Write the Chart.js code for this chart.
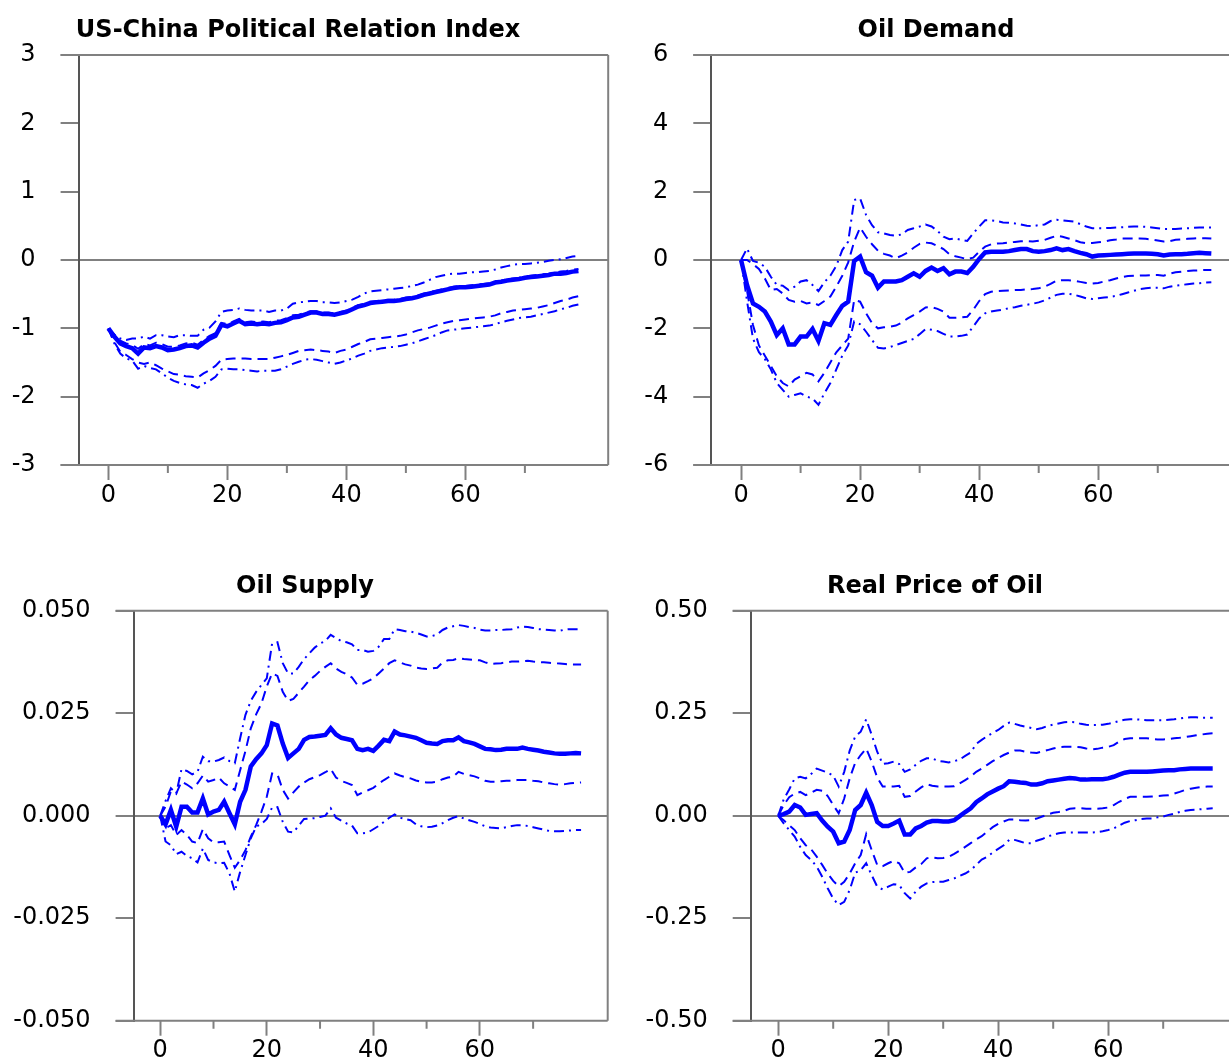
<!DOCTYPE html>
<html>
<head>
<meta charset="utf-8">
<script src="https://cdn.jsdelivr.net/npm/chart.js@4.4.1/dist/chart.umd.min.js"></script>
<style>
html,body{margin:0;padding:0;background:#fff;overflow:hidden;width:1229px;height:1062px;}
.pane{position:absolute;}
canvas{display:block;}
</style>
</head>
<body>
<div class="pane" style="left:0;top:0;"><canvas id="c1" width="615" height="531"></canvas></div>
<div class="pane" style="left:615px;top:0;"><canvas id="c2" width="640" height="531"></canvas></div>
<div class="pane" style="left:0;top:531px;"><canvas id="c3" width="615" height="531"></canvas></div>
<div class="pane" style="left:615px;top:531px;"><canvas id="c4" width="640" height="531"></canvas></div>
<script>
// ---------------- DATA ----------------
const horizons = [0,1,2,3,4,5,6,7,8,9,10,11,12,13,14,15,16,17,18,19,20,21,22,23,24,25,26,27,28,29,30,31,32,33,34,35,36,37,38,39,40,41,42,43,44,45,46,47,48,49,50,51,52,53,54,55,56,57,58,59,60,61,62,63,64,65,66,67,68,69,70,71,72,73,74,75,76,77,78,79];

const titles = ["US-China Political Relation Index", "Oil Demand", "Oil Supply", "Real Price of Oil"];

const xTickValues = [0,10,20,30,40,50,60,70];
const xTickLabels = ["0","","20","","40","","60",""];

const p1YTickValues = [-3,-2,-1,0,1,2,3];
const p1YTickLabels = ["-3","-2","-1","0","1","2","3"];
const p2YTickValues = [-6,-4,-2,0,2,4,6];
const p2YTickLabels = ["-6","-4","-2","0","2","4","6"];
const p3YTickValues = [-0.05,-0.025,0,0.025,0.05];
const p3YTickLabels = ["-0.050","-0.025","0.000","0.025","0.050"];
const p4YTickValues = [-0.5,-0.25,0,0.25,0.5];
const p4YTickLabels = ["-0.50","-0.25","0.00","0.25","0.50"];

// Panel 1: US-China Political Relation Index
const p1Median = [-1.00,-1.12,-1.22,-1.26,-1.29,-1.37,-1.28,-1.29,-1.26,-1.28,
  -1.32,-1.31,-1.29,-1.26,-1.25,-1.28,-1.21,-1.15,-1.11,-0.95,
  -0.97,-0.93,-0.89,-0.94,-0.93,-0.94,-0.93,-0.94,-0.92,-0.91,
  -0.88,-0.84,-0.83,-0.80,-0.77,-0.77,-0.79,-0.79,-0.80,-0.78,
  -0.76,-0.72,-0.68,-0.66,-0.63,-0.62,-0.61,-0.60,-0.60,-0.59,
  -0.57,-0.56,-0.54,-0.51,-0.49,-0.47,-0.45,-0.43,-0.41,-0.40,
  -0.40,-0.39,-0.38,-0.37,-0.36,-0.33,-0.32,-0.30,-0.29,-0.28,
  -0.26,-0.25,-0.24,-0.23,-0.22,-0.20,-0.20,-0.19,-0.17,-0.16];
const p1InnerUp = [-1.00,-1.09,-1.18,-1.22,-1.24,-1.30,-1.23,-1.25,-1.21,-1.23,
  -1.27,-1.27,-1.25,-1.22,-1.21,-1.24,-1.17,-1.11,-1.07,-0.92,
  -0.94,-0.90,-0.86,-0.91,-0.90,-0.91,-0.90,-0.91,-0.89,-0.88,
  -0.85,-0.81,-0.80,-0.77,-0.75,-0.75,-0.77,-0.77,-0.78,-0.76,
  -0.74,-0.70,-0.66,-0.64,-0.61,-0.60,-0.59,-0.58,-0.58,-0.57,
  -0.55,-0.54,-0.52,-0.49,-0.47,-0.45,-0.43,-0.41,-0.39,-0.38,
  -0.38,-0.37,-0.36,-0.35,-0.34,-0.31,-0.30,-0.28,-0.27,-0.26,
  -0.24,-0.23,-0.22,-0.21,-0.20,-0.18,-0.17,-0.16,-0.14,-0.13];
const p1InnerLo = [-1.00,-1.20,-1.34,-1.39,-1.45,-1.50,-1.52,-1.50,-1.54,-1.59,
  -1.63,-1.67,-1.68,-1.70,-1.71,-1.72,-1.66,-1.61,-1.55,-1.46,
  -1.45,-1.44,-1.44,-1.44,-1.45,-1.45,-1.45,-1.45,-1.43,-1.41,
  -1.39,-1.36,-1.33,-1.32,-1.31,-1.32,-1.33,-1.34,-1.36,-1.33,
  -1.31,-1.27,-1.23,-1.20,-1.16,-1.15,-1.14,-1.13,-1.12,-1.11,
  -1.09,-1.06,-1.03,-1.01,-0.99,-0.96,-0.93,-0.91,-0.89,-0.88,
  -0.87,-0.86,-0.85,-0.84,-0.83,-0.81,-0.78,-0.76,-0.74,-0.73,
  -0.72,-0.71,-0.70,-0.68,-0.66,-0.63,-0.60,-0.58,-0.55,-0.53];
const p1OuterUp = [-1.00,-1.10,-1.15,-1.17,-1.15,-1.15,-1.12,-1.15,-1.10,-1.10,
  -1.12,-1.13,-1.10,-1.10,-1.11,-1.11,-1.02,-0.99,-0.90,-0.76,
  -0.74,-0.73,-0.71,-0.73,-0.74,-0.74,-0.74,-0.76,-0.74,-0.74,
  -0.71,-0.64,-0.62,-0.61,-0.60,-0.60,-0.62,-0.62,-0.63,-0.62,
  -0.60,-0.58,-0.54,-0.49,-0.46,-0.45,-0.44,-0.43,-0.42,-0.41,
  -0.40,-0.38,-0.36,-0.33,-0.29,-0.25,-0.23,-0.21,-0.20,-0.20,
  -0.19,-0.18,-0.18,-0.17,-0.16,-0.14,-0.11,-0.09,-0.07,-0.06,
  -0.06,-0.05,-0.04,-0.03,-0.01,0.00,0.01,0.03,0.05,0.06];
const p1OuterLo = [-1.00,-1.22,-1.37,-1.44,-1.47,-1.59,-1.55,-1.58,-1.60,-1.66,
  -1.72,-1.77,-1.80,-1.82,-1.83,-1.87,-1.81,-1.77,-1.71,-1.60,
  -1.59,-1.60,-1.60,-1.61,-1.62,-1.63,-1.62,-1.62,-1.62,-1.60,
  -1.56,-1.52,-1.49,-1.46,-1.45,-1.46,-1.48,-1.50,-1.52,-1.50,
  -1.47,-1.44,-1.40,-1.37,-1.33,-1.31,-1.29,-1.28,-1.27,-1.26,
  -1.24,-1.22,-1.19,-1.16,-1.13,-1.10,-1.06,-1.03,-1.02,-1.01,
  -1.00,-0.99,-0.98,-0.97,-0.96,-0.94,-0.91,-0.89,-0.87,-0.85,
  -0.84,-0.83,-0.81,-0.79,-0.77,-0.75,-0.72,-0.70,-0.67,-0.65];

// Panel 2: Oil Demand
const p2Median = [0.00,-0.73,-1.27,-1.37,-1.51,-1.80,-2.20,-2.00,-2.47,-2.47,
  -2.24,-2.24,-2.02,-2.37,-1.85,-1.90,-1.61,-1.34,-1.22,-0.03,
  0.10,-0.36,-0.46,-0.81,-0.63,-0.63,-0.63,-0.59,-0.49,-0.39,
  -0.49,-0.32,-0.22,-0.32,-0.24,-0.42,-0.34,-0.34,-0.38,-0.20,
  0.03,0.22,0.24,0.24,0.24,0.26,0.29,0.32,0.32,0.26,
  0.24,0.26,0.29,0.34,0.29,0.32,0.26,0.21,0.17,0.10,
  0.13,0.14,0.15,0.16,0.17,0.18,0.19,0.19,0.19,0.18,
  0.17,0.13,0.16,0.17,0.17,0.18,0.20,0.21,0.20,0.19];
const p2InnerUp = [0.00,0.00,-0.12,-0.26,-0.54,-0.88,-0.85,-0.98,-1.17,-1.22,
  -1.20,-1.27,-1.24,-1.32,-1.20,-1.07,-0.78,-0.46,-0.07,0.54,
  0.95,0.68,0.46,0.27,0.18,0.13,0.05,0.13,0.22,0.36,
  0.47,0.51,0.49,0.41,0.32,0.17,0.11,0.07,0.02,0.07,
  0.24,0.39,0.46,0.48,0.49,0.51,0.53,0.55,0.55,0.54,
  0.56,0.59,0.65,0.71,0.68,0.63,0.58,0.52,0.49,0.50,
  0.52,0.54,0.58,0.60,0.63,0.63,0.63,0.63,0.62,0.60,
  0.57,0.54,0.55,0.59,0.60,0.62,0.63,0.64,0.64,0.63];
const p2InnerLo = [0.00,-0.90,-1.90,-2.50,-2.80,-3.10,-3.40,-3.60,-3.70,-3.50,
  -3.40,-3.30,-3.35,-3.55,-3.30,-3.00,-2.70,-2.50,-2.30,-1.17,
  -1.22,-1.56,-1.85,-2.00,-1.97,-1.95,-1.92,-1.83,-1.71,-1.61,
  -1.51,-1.39,-1.38,-1.43,-1.51,-1.69,-1.69,-1.68,-1.66,-1.46,
  -1.20,-1.00,-0.93,-0.91,-0.90,-0.89,-0.88,-0.88,-0.86,-0.85,
  -0.83,-0.78,-0.70,-0.60,-0.59,-0.59,-0.61,-0.64,-0.67,-0.69,
  -0.67,-0.63,-0.59,-0.54,-0.50,-0.47,-0.46,-0.45,-0.45,-0.44,
  -0.44,-0.46,-0.40,-0.36,-0.34,-0.32,-0.31,-0.30,-0.29,-0.29];
const p2OuterUp = [0.00,0.34,-0.03,-0.08,-0.20,-0.49,-0.73,-0.75,-0.88,-0.78,
  -0.63,-0.59,-0.73,-0.91,-0.65,-0.46,-0.17,0.29,0.54,1.76,
  1.80,1.32,1.02,0.81,0.78,0.73,0.71,0.75,0.88,0.93,
  0.98,1.04,0.98,0.85,0.68,0.61,0.63,0.59,0.56,0.78,
  0.98,1.16,1.16,1.14,1.10,1.09,1.07,1.04,1.00,0.99,
  1.02,1.04,1.14,1.18,1.16,1.14,1.12,1.05,0.98,0.93,
  0.93,0.93,0.94,0.95,0.96,0.97,0.98,0.98,0.97,0.95,
  0.93,0.91,0.91,0.91,0.92,0.93,0.94,0.95,0.95,0.95];
const p2OuterLo = [0.00,-1.20,-2.30,-2.70,-2.90,-3.20,-3.60,-3.80,-4.00,-3.95,
  -3.90,-4.00,-4.05,-4.24,-3.90,-3.60,-3.20,-2.80,-2.50,-1.80,
  -1.88,-2.10,-2.34,-2.57,-2.59,-2.55,-2.49,-2.43,-2.37,-2.31,
  -2.17,-2.02,-2.04,-2.08,-2.16,-2.24,-2.24,-2.22,-2.18,-1.95,
  -1.71,-1.56,-1.51,-1.48,-1.45,-1.41,-1.38,-1.34,-1.31,-1.28,
  -1.24,-1.18,-1.10,-1.02,-0.99,-0.99,-1.02,-1.07,-1.12,-1.14,
  -1.12,-1.10,-1.08,-1.05,-1.00,-0.95,-0.90,-0.85,-0.83,-0.81,
  -0.81,-0.83,-0.78,-0.75,-0.73,-0.71,-0.69,-0.68,-0.66,-0.65];

// Panel 3: Oil Supply
const p3Median = [0,-0.0021,0.0014,-0.0027,0.0022,0.0022,0.0008,0.0008,0.0042,0.0003,
  0.0010,0.0014,0.0034,0.0006,-0.0021,0.0034,0.0063,0.0120,0.0138,0.0152,
  0.0172,0.0225,0.0220,0.0176,0.0141,0.0152,0.0163,0.0185,0.0192,0.0193,
  0.0195,0.0197,0.0213,0.0198,0.0190,0.0187,0.0184,0.0163,0.0160,0.0163,
  0.0158,0.0171,0.0185,0.0182,0.0205,0.0198,0.0196,0.0193,0.0190,0.0184,
  0.0178,0.0176,0.0175,0.0182,0.0184,0.0184,0.0191,0.0182,0.0179,0.0175,
  0.0169,0.0163,0.0162,0.0160,0.0161,0.0163,0.0163,0.0163,0.0166,0.0163,
  0.0161,0.0159,0.0156,0.0154,0.0152,0.0151,0.0151,0.0152,0.0153,0.0152];
const p3InnerUp = [0,0.0022,0.0059,0.0054,0.0083,0.0076,0.0067,0.0079,0.0098,0.0083,
  0.0087,0.0093,0.0079,0.0071,0.0063,0.0111,0.0158,0.0213,0.0247,0.0274,
  0.0315,0.0347,0.0341,0.0302,0.0280,0.0285,0.0300,0.0315,0.0331,0.0341,
  0.0353,0.0363,0.0372,0.0359,0.0351,0.0345,0.0337,0.0319,0.0322,0.0328,
  0.0335,0.0347,0.0359,0.0372,0.0379,0.0374,0.0369,0.0366,0.0361,0.0359,
  0.0358,0.0359,0.0361,0.0374,0.0379,0.0380,0.0384,0.0382,0.0381,0.0380,
  0.0379,0.0374,0.0370,0.0371,0.0372,0.0374,0.0376,0.0376,0.0377,0.0378,
  0.0376,0.0375,0.0374,0.0373,0.0372,0.0371,0.0370,0.0369,0.0369,0.0369];
const p3InnerLo = [0,-0.0031,-0.0023,-0.0047,-0.0035,-0.0047,-0.0063,-0.0067,-0.0033,-0.0055,
  -0.0065,-0.0065,-0.0063,-0.0096,-0.0127,-0.0108,-0.0084,-0.0051,-0.0023,0.0010,
  0.0046,0.0103,0.0101,0.0063,0.0042,0.0057,0.0071,0.0081,0.0089,0.0094,
  0.0099,0.0106,0.0114,0.0093,0.0085,0.0080,0.0075,0.0050,0.0057,0.0062,
  0.0068,0.0078,0.0087,0.0095,0.0103,0.0098,0.0094,0.0091,0.0086,0.0083,
  0.0081,0.0081,0.0083,0.0089,0.0093,0.0095,0.0107,0.0102,0.0099,0.0096,
  0.0091,0.0085,0.0083,0.0083,0.0084,0.0085,0.0085,0.0087,0.0087,0.0087,
  0.0085,0.0084,0.0081,0.0079,0.0077,0.0076,0.0077,0.0079,0.0080,0.0081];
const p3OuterUp = [0,0.0036,0.0067,0.0054,0.0114,0.0109,0.0101,0.0107,0.0144,0.0133,
  0.0132,0.0136,0.0142,0.0133,0.0128,0.0189,0.0246,0.0280,0.0302,0.0319,
  0.0335,0.0420,0.0423,0.0372,0.0347,0.0347,0.0363,0.0382,0.0396,0.0410,
  0.0420,0.0426,0.0441,0.0433,0.0426,0.0423,0.0418,0.0404,0.0404,0.0400,
  0.0402,0.0412,0.0431,0.0431,0.0455,0.0453,0.0450,0.0449,0.0446,0.0442,
  0.0437,0.0438,0.0442,0.0453,0.0459,0.0462,0.0465,0.0463,0.0460,0.0458,
  0.0454,0.0452,0.0452,0.0453,0.0453,0.0454,0.0455,0.0459,0.0461,0.0460,
  0.0458,0.0455,0.0454,0.0453,0.0452,0.0451,0.0454,0.0455,0.0455,0.0455];
const p3OuterLo = [0,-0.0063,-0.0072,-0.0094,-0.0088,-0.0098,-0.0104,-0.0114,-0.0080,-0.0108,
  -0.0114,-0.0116,-0.0115,-0.0141,-0.0185,-0.0137,-0.0096,-0.0055,-0.0027,-0.0020,
  -0.0008,0.0020,0.0021,-0.0015,-0.0039,-0.0041,-0.0024,-0.0008,-0.0007,-0.0006,
  -0.0003,0.0000,0.0018,-0.0005,-0.0012,-0.0019,-0.0024,-0.0043,-0.0043,-0.0041,
  -0.0033,-0.0025,-0.0015,-0.0005,0.0003,-0.0005,-0.0008,-0.0011,-0.0021,-0.0026,
  -0.0028,-0.0027,-0.0024,-0.0018,-0.0011,-0.0005,-0.0001,-0.0007,-0.0011,-0.0015,
  -0.0020,-0.0026,-0.0029,-0.0030,-0.0031,-0.0028,-0.0025,-0.0023,-0.0023,-0.0025,
  -0.0028,-0.0031,-0.0034,-0.0037,-0.0038,-0.0038,-0.0037,-0.0036,-0.0035,-0.0035];

// Panel 4: Real Price of Oil
const p4Median = [0.000,0.004,0.010,0.026,0.020,0.002,0.004,0.006,-0.012,-0.027,
  -0.039,-0.067,-0.063,-0.035,0.014,0.026,0.056,0.026,-0.015,-0.025,
  -0.025,-0.019,-0.012,-0.046,-0.046,-0.031,-0.025,-0.017,-0.013,-0.013,
  -0.014,-0.014,-0.011,-0.001,0.009,0.018,0.033,0.042,0.052,0.059,
  0.066,0.072,0.084,0.083,0.081,0.080,0.076,0.076,0.079,0.084,
  0.086,0.088,0.090,0.092,0.091,0.088,0.088,0.089,0.089,0.089,
  0.091,0.095,0.100,0.105,0.107,0.107,0.107,0.107,0.108,0.109,
  0.110,0.111,0.111,0.113,0.114,0.115,0.115,0.115,0.115,0.115];
const p4InnerUp = [0,0.026,0.045,0.054,0.058,0.050,0.056,0.063,0.061,0.048,
  0.026,0.006,0.042,0.091,0.129,0.148,0.164,0.132,0.093,0.071,
  0.071,0.071,0.073,0.046,0.048,0.059,0.069,0.077,0.073,0.071,
  0.071,0.071,0.072,0.079,0.087,0.095,0.107,0.115,0.124,0.133,
  0.141,0.148,0.154,0.159,0.159,0.156,0.154,0.153,0.157,0.160,
  0.164,0.167,0.168,0.168,0.168,0.167,0.164,0.162,0.163,0.166,
  0.168,0.172,0.181,0.187,0.189,0.189,0.189,0.189,0.187,0.186,
  0.186,0.187,0.189,0.190,0.192,0.194,0.196,0.198,0.200,0.201];
const p4InnerLo = [0,-0.011,-0.023,-0.035,-0.055,-0.072,-0.082,-0.100,-0.120,-0.141,
  -0.159,-0.172,-0.161,-0.141,-0.116,-0.096,-0.045,-0.084,-0.120,-0.123,
  -0.116,-0.110,-0.116,-0.139,-0.137,-0.126,-0.118,-0.104,-0.102,-0.104,
  -0.103,-0.100,-0.093,-0.085,-0.076,-0.067,-0.058,-0.050,-0.039,-0.028,
  -0.020,-0.014,-0.009,-0.009,-0.011,-0.012,-0.011,-0.007,-0.002,0.003,
  0.007,0.009,0.012,0.017,0.018,0.018,0.017,0.017,0.017,0.018,
  0.020,0.026,0.034,0.041,0.046,0.046,0.046,0.046,0.047,0.048,
  0.049,0.050,0.054,0.058,0.063,0.066,0.068,0.070,0.071,0.071];
const p4OuterUp = [0,0.040,0.064,0.091,0.095,0.091,0.102,0.115,0.110,0.105,
  0.098,0.071,0.107,0.159,0.193,0.205,0.235,0.197,0.156,0.126,
  0.128,0.132,0.126,0.107,0.113,0.124,0.134,0.140,0.140,0.134,
  0.132,0.130,0.133,0.137,0.146,0.154,0.175,0.185,0.194,0.202,
  0.209,0.219,0.227,0.224,0.220,0.217,0.214,0.211,0.214,0.219,
  0.222,0.225,0.228,0.229,0.228,0.224,0.222,0.221,0.221,0.222,
  0.224,0.227,0.231,0.234,0.235,0.235,0.234,0.233,0.233,0.233,
  0.233,0.234,0.235,0.237,0.239,0.240,0.240,0.239,0.239,0.239];
const p4OuterLo = [0,-0.019,-0.035,-0.051,-0.076,-0.096,-0.108,-0.124,-0.149,-0.177,
  -0.202,-0.218,-0.210,-0.181,-0.139,-0.133,-0.116,-0.145,-0.173,-0.180,
  -0.173,-0.167,-0.169,-0.189,-0.202,-0.185,-0.173,-0.165,-0.162,-0.161,
  -0.161,-0.157,-0.153,-0.147,-0.141,-0.133,-0.120,-0.107,-0.100,-0.090,
  -0.081,-0.072,-0.059,-0.059,-0.063,-0.067,-0.067,-0.061,-0.057,-0.051,
  -0.046,-0.043,-0.041,-0.041,-0.041,-0.041,-0.041,-0.041,-0.040,-0.038,
  -0.035,-0.031,-0.024,-0.017,-0.013,-0.011,-0.008,-0.007,-0.007,-0.004,
  -0.002,0.002,0.005,0.009,0.012,0.014,0.015,0.016,0.017,0.018];

// ---------------- LAYOUT / STYLE ----------------
const BLUE = '#0000ff';
const AXIS_GRAY = '#808080';
const FONT = '"DejaVu Sans", sans-serif';
Chart.defaults.font.family = FONT;

const panels = [
  {canvas:'c1', w:615, h:531, area:{l:78.6, r:608.2, t:55, b:465}, title:{x:298, y:37},
   yMin:-3, yMax:3, yVals:p1YTickValues, yLabels:p1YTickLabels, titleText:titles[0],
   series:[p1OuterUp,p1OuterLo,p1InnerUp,p1InnerLo,p1Median]},
  {canvas:'c2', w:640, h:531, area:{l:96.3, r:626.1, t:55, b:465}, title:{x:321, y:37},
   yMin:-6, yMax:6, yVals:p2YTickValues, yLabels:p2YTickLabels, titleText:titles[1],
   series:[p2OuterUp,p2OuterLo,p2InnerUp,p2InnerLo,p2Median]},
  {canvas:'c3', w:615, h:531, area:{l:133.6, r:607.7, t:79.7, b:489.7}, title:{x:305, y:62},
   yMin:-0.05, yMax:0.05, yVals:p3YTickValues, yLabels:p3YTickLabels, titleText:titles[2],
   series:[p3OuterUp,p3OuterLo,p3InnerUp,p3InnerLo,p3Median]},
  {canvas:'c4', w:640, h:531, area:{l:135.7, r:625.2, t:79.7, b:489.7}, title:{x:320, y:62},
   yMin:-0.5, yMax:0.5, yVals:p4YTickValues, yLabels:p4YTickLabels, titleText:titles[3],
   series:[p4OuterUp,p4OuterLo,p4InnerUp,p4InnerLo,p4Median]}
];

const seriesStyles = [
  {borderWidth:2, borderDash:[10,5,2,5]},
  {borderWidth:2, borderDash:[10,5,2,5]},
  {borderWidth:2, borderDash:[10,6]},
  {borderWidth:2, borderDash:[10,6]},
  {borderWidth:4.5, borderDash:[]}
];
const seriesNames = ['upper 90%','lower 90%','upper 68%','lower 68%','median'];

const X_AXIS_H = 40;
const Y_TICK_LEN = 18;

const framePlugin = {
  id: 'irfFrame',
  beforeDatasetsDraw(chart) {
    const {ctx, chartArea:a, scales:{x}} = chart;
    ctx.save();
    ctx.strokeStyle = AXIS_GRAY;
    ctx.lineWidth = 2;
    ctx.beginPath();
    ctx.moveTo(a.left - Y_TICK_LEN, a.top); ctx.lineTo(a.right, a.top);
    ctx.moveTo(a.right, a.top); ctx.lineTo(a.right, a.bottom);
    ctx.moveTo(a.left - Y_TICK_LEN, a.bottom); ctx.lineTo(a.right, a.bottom);
    xTickValues.forEach((v, i) => {
      if (xTickLabels[i] === '') {
        const px = x.getPixelForValue(v);
        ctx.moveTo(px, a.bottom); ctx.lineTo(px, a.bottom + 8);
      }
    });
    ctx.stroke();
    ctx.restore();
  },
  afterDraw(chart, args, opts) {
    const {ctx} = chart;
    ctx.save();
    ctx.font = 'bold 24px ' + FONT;
    ctx.fillStyle = '#000';
    ctx.textAlign = 'center';
    ctx.textBaseline = 'alphabetic';
    ctx.fillText(opts.text, opts.x, opts.y);
    ctx.restore();
  }
};

panels.forEach(p => {
  const datasets = p.series.map((vals, si) => ({
    label: seriesNames[si],
    data: vals.map((v, i) => ({x: horizons[i], y: v})),
    borderColor: BLUE,
    backgroundColor: BLUE,
    borderWidth: seriesStyles[si].borderWidth,
    borderDash: seriesStyles[si].borderDash,
    pointRadius: 0,
    tension: 0,
    fill: false
  }));
  new Chart(document.getElementById(p.canvas), {
    type: 'line',
    data: {datasets},
    plugins: [framePlugin],
    options: {
      responsive: false,
      animation: false,
      events: [],
      layout: {padding: {left: 0, right: p.w - p.area.r, top: p.area.t, bottom: p.h - p.area.b - X_AXIS_H}},
      plugins: {
        legend: {display: false},
        tooltip: {enabled: false},
        title: {display: false},
        irfFrame: {text: p.titleText, x: p.title.x, y: p.title.y}
      },
      scales: {
        x: {
          type: 'linear', min: -5, max: 84,
          afterBuildTicks: s => { s.ticks = xTickValues.map(v => ({value: v})); },
          afterFit: s => { s.height = X_AXIS_H; },
          ticks: {autoSkip: false, maxRotation: 0, padding: 1, color: '#000',
                  font: {size: 24, family: FONT},
                  callback: (v, i) => xTickLabels[i]},
          grid: {drawOnChartArea: false, tickLength: 15, tickWidth: 2,
                 tickColor: c => (xTickLabels[c.index] ? AXIS_GRAY : 'rgba(0,0,0,0)')},
          border: {display: false}
        },
        y: {
          type: 'linear', min: p.yMin, max: p.yMax,
          afterBuildTicks: s => { s.ticks = p.yVals.map(v => ({value: v})); },
          afterFit: s => { s.width = p.area.l; },
          ticks: {padding: 25, color: '#000', font: {size: 24, family: FONT},
                  callback: (v, i) => p.yLabels[i]},
          grid: {drawOnChartArea: true, lineWidth: 2, tickLength: Y_TICK_LEN, tickWidth: 2,
                 tickColor: AXIS_GRAY,
                 color: c => (c.tick && c.tick.value === 0 ? AXIS_GRAY : 'rgba(0,0,0,0)')},
          border: {display: true, color: '#555', width: 2}
        }
      }
    }
  });
});
</script>
</body>
</html>
